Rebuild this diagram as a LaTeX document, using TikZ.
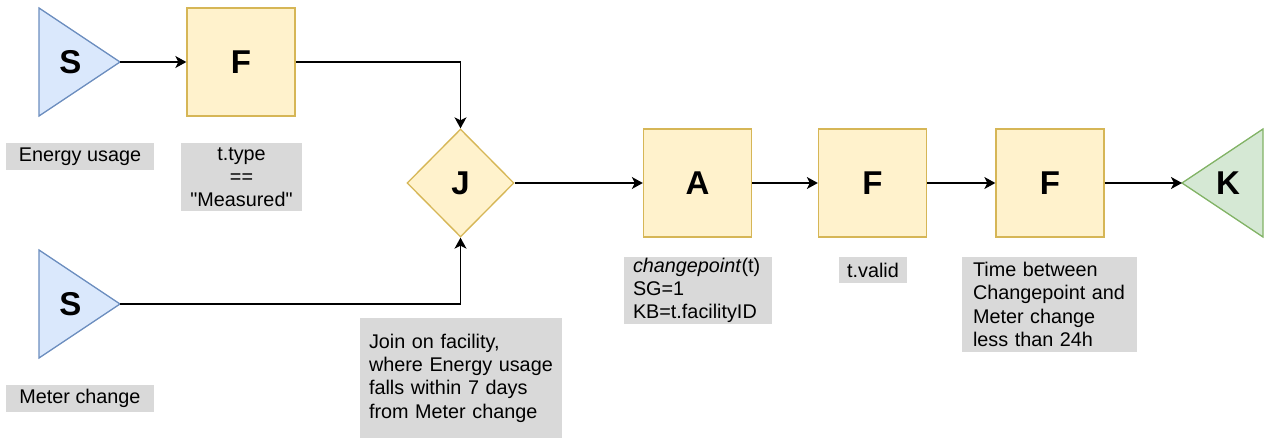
\documentclass[tikz,border=0pt]{standalone}
\usepackage{fontspec}
\setmainfont{Liberation Sans}
% same face without the TeX input mapping, so a typed " stays straight
\newfontfamily\rawfont{Liberation Sans}
\usetikzlibrary{shapes.geometric,arrows.meta}

\definecolor{srcfill}{HTML}{DAE8FC}
\definecolor{srcline}{HTML}{6C8EBF}
\definecolor{opfill}{HTML}{FFF2CC}
\definecolor{opline}{HTML}{D6B656}
\definecolor{sinkfill}{HTML}{D5E8D4}
\definecolor{sinkline}{HTML}{82B366}
\definecolor{notefill}{HTML}{D9D9D9}

\tikzset{
  letter/.style={font=\fontsize{33}{40}\selectfont\bfseries, inner sep=0pt},
  opbox/.style={draw=opline, fill=opfill, line width=1.33pt, minimum width=108pt,
    minimum height=108pt, inner sep=0pt, font=\fontsize{33}{40}\selectfont\bfseries},
  joinbox/.style={shape=diamond, draw=opline, fill=opfill, line width=1.33pt,
    minimum width=107pt, minimum height=108pt, inner sep=0pt,
    font=\fontsize{33}{40}\selectfont\bfseries},
  srcshape/.style={draw=srcline, fill=srcfill, line width=1.33pt, line join=miter},
  sinkshape/.style={draw=sinkline, fill=sinkfill, line width=1.33pt, line join=miter},
  note/.style={fill=notefill, inner ysep=0pt, font=\fontsize{19.8}{23.3}\selectfont},
  link/.style={line width=1.33pt, -{Stealth[length=11pt,width=12pt,inset=3pt]}},
}

\newcommand{\dq}{{\rawfont\symbol{34}}}

\begin{document}
\begin{tikzpicture}[x=1pt,y=-1pt]
  \useasboundingbox (0,0) rectangle (1273,439);

  % sources
  \filldraw[srcshape] (39,8) -- (120,62) -- (39,116) -- cycle;
  \coordinate (s1) at (120,62);
  \node[letter] (s1t) at (70.5,62) {S};
  \filldraw[srcshape] (39,250) -- (120,304) -- (39,358) -- cycle;
  \coordinate (s2) at (120,304);
  \node[letter] (s2t) at (70.5,304) {S};

  % sink
  \filldraw[sinkshape] (1263,129) -- (1182,183) -- (1263,237) -- cycle;
  \coordinate (k) at (1182,183);
  \node[letter] (kt) at (1228,183) {K};

  % operators
  \node[opbox] (f1) at (241,62) {F};
  \node[joinbox] (j) at (460.5,183) {J};
  \node[opbox] (a) at (697.5,183) {A};
  \node[opbox] (f2) at (872.5,183) {F};
  \node[opbox] (f3) at (1050,183) {F};

  % annotations
  \node[note, minimum width=148pt, minimum height=27pt, inner xsep=0pt] (n1) at (80,156.5) {Energy usage};
  \node[note, text width=121pt, inner xsep=0pt, align=center, minimum height=68pt] (n2) at (241.5,177)
    {t.type\\==\\\dq Measured\dq};
  \node[note, minimum width=148pt, minimum height=27pt, inner xsep=0pt] (n3) at (80,398.5) {Meter change};
  \node[note, text width=184pt, inner xsep=9pt, align=left, minimum height=120pt] (n4) at (461,378)
    {Join on facility,\\where Energy usage\\falls within 7 days\\from Meter change};
  \node[note, text width=130pt, inner xsep=9pt, align=left, minimum height=67pt] (n5) at (698,290.5)
    {\textit{changepoint}(t)\\SG=1\\KB=t.facilityID};
  \node[note, minimum width=68pt, minimum height=26pt, inner xsep=0pt] (n6) at (873,270) {t.valid};
  \node[note, text width=153pt, inner xsep=11pt, align=left, minimum height=95pt] (n7) at (1049.5,304.5)
    {Time between\\Changepoint and\\Meter change\\less than 24h};

  % connectors
  \draw[link] (s1) -- (f1.west);
  \draw[link] (f1.east) -| (j.north);
  \draw[link] (s2) -| (j.south);
  \draw[link] (j.east) -- (a.west);
  \draw[link] (a.east) -- (f2.west);
  \draw[link] (f2.east) -- (f3.west);
  \draw[link] (f3.east) -- (k);
\end{tikzpicture}
\end{document}
